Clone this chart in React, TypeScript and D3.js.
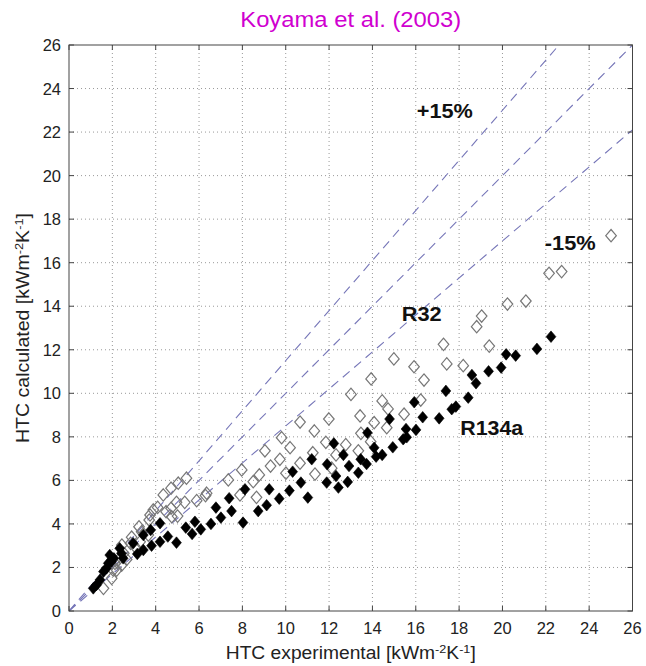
import React from "react";
import * as d3 from "d3";

// R32 (open diamonds): HTC experimental vs calculated
const r32Exp = [25.01, 22.15, 22.73, 20.23, 21.08, 19.04, 18.81, 19.39, 17.28, 17.43, 18.19, 15.92, 16.38, 16.23, 15.46, 14.99, 13.94, 13.01, 14.45, 14.72, 10.66, 11.99, 13.43, 14.08, 14.66, 11.32, 13.47, 9.81, 13.92, 11.85, 9.04, 12.77, 11.25, 13.35, 9.73, 12.32, 10.2, 9.3, 10.66, 10.01, 8.78, 11.35, 8.5, 12.12, 8.65, 7.97, 7.35, 7.89, 6.3, 5.89, 5.42, 5.04, 4.71, 4.96, 5.34, 4.71, 5.01, 4.74, 4.35, 4.09, 4.48, 3.74, 3.89, 3.7, 3.23, 3.35, 2.89, 2.84, 2.44, 2.53, 2.12, 2.04, 1.59, 2.27, 1.97, 2.2, 2.43, 2.66, 3.05, 3.28, 3.66, 6.35];
const r32Calc = [17.24, 15.51, 15.59, 14.1, 14.24, 13.55, 13.06, 12.17, 12.25, 11.35, 11.27, 11.22, 10.61, 9.69, 9.04, 11.58, 10.66, 9.95, 9.65, 9.28, 8.68, 8.82, 8.96, 8.65, 8.42, 8.27, 8.16, 7.96, 7.78, 7.75, 7.36, 7.64, 7.27, 7.36, 6.97, 7.17, 7.5, 6.66, 6.79, 6.33, 6.25, 6.29, 5.94, 6.56, 5.22, 6.48, 6.02, 5.33, 5.3, 5.07, 6.1, 5.87, 5.64, 4.99, 4.99, 4.72, 4.36, 4.33, 5.33, 4.76, 4.56, 4.41, 4.64, 4.18, 3.87, 3.64, 3.39, 3.11, 3.03, 2.65, 2.19, 1.88, 1.04, 2.34, 1.5, 1.88, 2.11, 2.37, 2.95, 3.18, 3.49, 5.41];

// R134a (filled diamonds)
const r134aExp = [22.24, 21.59, 20.61, 20.17, 19.94, 19.36, 18.78, 18.59, 17.39, 18.42, 15.93, 17.66, 17.85, 17.08, 16.32, 15.55, 16.01, 15.42, 15.58, 14.79, 14.94, 13.77, 14.08, 14.17, 14.45, 13.73, 13.35, 13.46, 12.92, 12.66, 12.22, 11.91, 12.32, 11.89, 12.43, 12.86, 11.2, 10.32, 10.7, 10.17, 11.02, 9.24, 9.7, 9.12, 8.73, 8.12, 7.39, 8.03, 7.5, 7.01, 6.78, 6.55, 5.81, 6.08, 5.68, 5.39, 4.96, 4.56, 4.2, 3.81, 3.43, 3.15, 3.77, 4.2, 3.43, 2.96, 2.5, 2.34, 2.07, 1.96, 1.81, 1.73, 1.59, 1.43, 1.12, 1.27, 1.88, 2.42];
const r134aCalc = [12.6, 12.04, 11.73, 11.79, 11.18, 11.01, 10.46, 10.84, 10.11, 9.8, 9.59, 9.27, 9.39, 8.85, 8.9, 8.36, 8.32, 7.89, 7.98, 8.82, 7.52, 8.19, 7.5, 7.09, 7.17, 6.75, 6.35, 6.97, 6.66, 7.17, 7.7, 6.74, 6.2, 5.9, 5.67, 5.93, 6.97, 6.4, 5.9, 5.53, 5.21, 5.59, 5.16, 4.86, 4.59, 5.59, 5.18, 4.06, 4.59, 4.29, 4.75, 4.0, 4.1, 3.75, 3.54, 3.83, 3.14, 3.42, 3.18, 3.0, 2.8, 2.62, 3.72, 4.03, 3.49, 3.11, 2.42, 2.88, 2.42, 2.27, 2.19, 1.96, 1.81, 1.43, 1.04, 1.2, 2.57, 2.65];

// reference lines y = ratio * x
const refRatios = [1.15, 1.0, 0.85];
const tickValues = [0, 2, 4, 6, 8, 10, 12, 14, 16, 18, 20, 22, 24, 26];

const annotations = [
  { text: "+15%", x: 16.05, y: 22.65, w: 56 },
  { text: "-15%", x: 21.95, y: 16.6, w: 51 },
  { text: "R32", x: 15.35, y: 13.3, w: 40 },
  { text: "R134a", x: 18.05, y: 8.1, w: 63 },
];

const FONT = "'Liberation Sans', Arial, Helvetica, sans-serif";

export default function App() {
  const W = 646, H = 666;
  const L = 69, R = 632.5, T = 45, B = 611;
  const x = d3.scaleLinear().domain([0, 26]).range([L, R]);
  const y = d3.scaleLinear().domain([0, 26]).range([B, T]);

  const openD = "M0,-6.2L5.3,0L0,6.2L-5.3,0Z";
  const fillD = "M0,-5.8L4.9,0L0,5.8L-4.9,0Z";

  const line = d3.line<[number, number]>().x((d) => x(d[0])).y((d) => y(d[1]));

  return (
    <svg
      width={W}
      height={H}
      style={{ position: "absolute", left: 0, top: 0, background: "#fff" }}
      fontFamily={FONT}
    >
      <rect x={0} y={0} width={W} height={H} fill="#fff" />
      <defs>
        <clipPath id="plotclip">
          <rect x={L} y={T} width={R - L} height={B - T} />
        </clipPath>
      </defs>
      {/* grid */}
      {tickValues.slice(1, -1).map((t) => (
        <g key={"g" + t}>
          <line x1={x(t)} x2={x(t)} y1={T} y2={B} stroke="#999" strokeWidth={1} strokeDasharray="1 3" />
          <line x1={L} x2={R} y1={y(t)} y2={y(t)} stroke="#999" strokeWidth={1} strokeDasharray="1 3" />
        </g>
      ))}
      {/* reference lines */}
      <g clipPath="url(#plotclip)">
        {refRatios.map((r) => (
          <path
            key={"r" + r}
            d={line([[0, 0], [26, 26 * r]]) || ""}
            fill="none"
            stroke="#7676b8"
            strokeWidth={1.1}
            strokeDasharray="9 6"
          />
        ))}
      </g>
      {/* R32 open diamonds */}
      {r32Exp.map((v, i) => (
        <path
          key={"o" + i}
          d={openD}
          transform={`translate(${x(v)},${y(r32Calc[i])})`}
          fill="none"
          stroke="#777"
          strokeWidth={1.2}
        />
      ))}
      {/* R134a filled diamonds */}
      {r134aExp.map((v, i) => (
        <path
          key={"f" + i}
          d={fillD}
          transform={`translate(${x(v)},${y(r134aCalc[i])})`}
          fill="#000"
          stroke="#000"
          strokeWidth={0.6}
        />
      ))}
      {/* frame */}
      <rect x={L} y={T} width={R - L} height={B - T} fill="none" stroke="#444" strokeWidth={1} />
      {/* ticks */}
      {tickValues.map((t) => (
        <g key={"t" + t} stroke="#444" strokeWidth={1}>
          <line x1={x(t)} x2={x(t)} y1={B} y2={B - 5} />
          <line x1={x(t)} x2={x(t)} y1={T} y2={T + 5} />
          <line x1={L} x2={L + 5} y1={y(t)} y2={y(t)} />
          <line x1={R} x2={R - 5} y1={y(t)} y2={y(t)} />
        </g>
      ))}
      {/* tick labels */}
      {tickValues.map((t) => (
        <text key={"xl" + t} x={x(t)} y={B + 23} textAnchor="middle" fontSize={16.5} fill="#222">
          {t}
        </text>
      ))}
      {tickValues.map((t) => (
        <text key={"yl" + t} x={L - 8} y={y(t) + 6} textAnchor="end" fontSize={16.5} fill="#222">
          {t}
        </text>
      ))}
      {/* annotations */}
      {annotations.map((a) => (
        <text
          key={a.text}
          x={x(a.x)}
          y={y(a.y)}
          fontSize={20}
          fontWeight="bold"
          fill="#111"
          textLength={a.w}
          lengthAdjust="spacingAndGlyphs"
        >
          {a.text}
        </text>
      ))}
      {/* title */}
      <text
        x={(L + R) / 2}
        y={27}
        textAnchor="middle"
        fontSize={22}
        fill="#d000d0"
        textLength={221}
        lengthAdjust="spacingAndGlyphs"
      >
        Koyama et al. (2003)
      </text>
      {/* x label */}
      <text
        x={(L + R) / 2}
        y={659}
        textAnchor="middle"
        fontSize={17.5}
        fill="#222"
        textLength={250}
        lengthAdjust="spacingAndGlyphs"
      >
        HTC experimental [kWm
        <tspan dy={-6} fontSize={11.5}>-2</tspan>
        <tspan dy={6}>K</tspan>
        <tspan dy={-6} fontSize={11.5}>-1</tspan>
        <tspan dy={6}>]</tspan>
      </text>
      {/* y label */}
      <text
        transform={`translate(29,${(T + B) / 2}) rotate(-90)`}
        textAnchor="middle"
        fontSize={17.5}
        fill="#222"
        textLength={230}
        lengthAdjust="spacingAndGlyphs"
      >
        HTC calculated [kWm
        <tspan dy={-6} fontSize={11.5}>-2</tspan>
        <tspan dy={6}>K</tspan>
        <tspan dy={-6} fontSize={11.5}>-1</tspan>
        <tspan dy={6}>]</tspan>
      </text>
    </svg>
  );
}
